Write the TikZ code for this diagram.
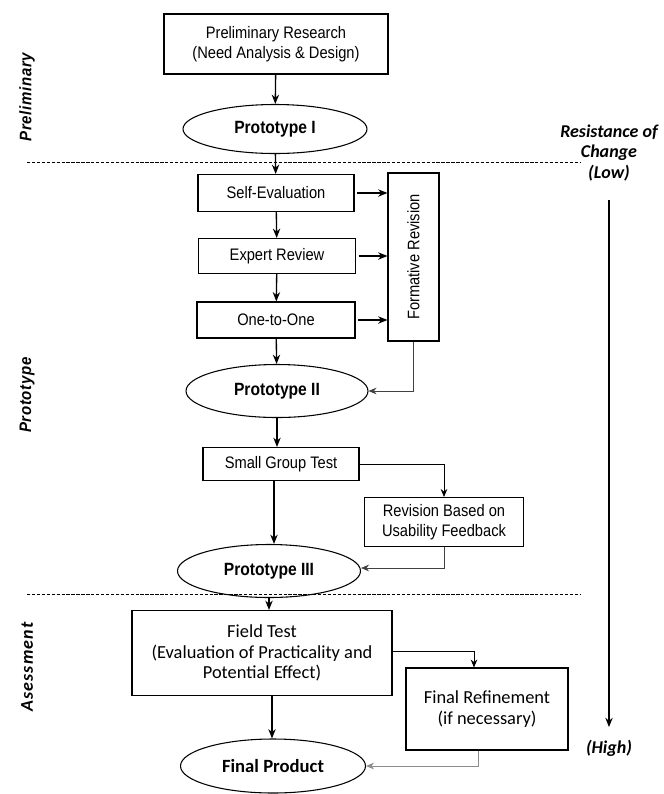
\documentclass[tikz,border=0pt]{standalone}
\usepackage{fontspec}
\setmainfont{Liberation Sans}
\newfontfamily\narrow{Liberation Sans}[FakeStretch=0.88]
\newfontfamily\calib{Carlito}
\newfontfamily\narrowspaced{Liberation Sans}[FakeStretch=0.9,LetterSpace=4]
\newfontfamily\calibspaced{Carlito}[LetterSpace=6]
\usetikzlibrary{shapes.geometric,arrows.meta,calc}
\begin{document}
\begin{tikzpicture}[x=0.75pt,y=-0.75pt,
  box/.style={draw,line width=0.8pt,inner sep=0pt,align=center,font=\narrow\fontsize{12.5}{15}\selectfont},
  cbox/.style={draw,line width=0.8pt,inner sep=0pt,align=center,font=\calib\fontsize{13.8}{15.3}\selectfont},
  oval/.style={draw,ellipse,line width=0.8pt,inner sep=0pt,font=\narrow\bfseries\fontsize{13.3}{15}\selectfont},
  arr/.style={line width=1pt,-{Stealth[length=7pt,width=5.5pt]}},
  gline/.style={line width=0.6pt,draw=black!75,-{Stealth[length=6pt,width=5pt]}},
  phase/.style={rotate=90,font=\narrowspaced\bfseries\itshape\fontsize{12.5}{14}\selectfont},
  res/.style={align=center,font=\calib\bfseries\itshape\fontsize{13.5}{15.5}\selectfont}
]
\useasboundingbox (0,0) rectangle (664,794);
% nodes
\node[box,minimum width=224*0.75pt,minimum height=60*0.75pt] (pre) at (276,44) {Preliminary Research\\(Need Analysis \& Design)};
\node[oval,minimum width=184*0.75pt,minimum height=49*0.75pt] (p1) at (275,129) {Prototype I};
\node[box,minimum width=156*0.75pt,minimum height=37*0.75pt] (se) at (276,193) {Self-Evaluation};
\node[box,minimum width=157*0.75pt,minimum height=35*0.75pt] (er) at (277,256) {Expert Review};
\node[box,minimum width=158*0.75pt,minimum height=36*0.75pt] (oo) at (276,320) {One-to-One};
\node[box,minimum width=51*0.75pt,minimum height=168*0.75pt] (fr0) at (413.5,257) {};
\node[font=\narrow\fontsize{12.5}{14}\selectfont,rotate=90] (frt) at (fr0) {Formative Revision};
\node[oval,minimum width=182*0.75pt,minimum height=53*0.75pt] (p2) at (277,391) {Prototype II};
\node[box,minimum width=156*0.75pt,minimum height=33*0.75pt] (sg) at (281,464) {Small Group Test};
\node[box,minimum width=159*0.75pt,minimum height=49*0.75pt] (rev) at (444,522) {Revision Based on\\Usability Feedback};
\node[oval,minimum width=183*0.75pt,minimum height=53*0.75pt] (p3) at (269,571) {Prototype III};
\node[cbox,minimum width=260*0.75pt,minimum height=85*0.75pt] (ft) at (262,653) {Field Test\\(Evaluation of Practicality and\\Potential Effect)};
\node[cbox,minimum width=162*0.75pt,minimum height=82*0.75pt] (fin) at (487,709) {Final Refinement\\(if necessary)};
\node[oval,minimum width=185*0.75pt,minimum height=54*0.75pt,font=\calib\bfseries\fontsize{14}{15}\selectfont] (fp) at (273,766) {Final Product};
% phase labels
\node[phase] (lpre) at (27,97) {Preliminary};
\node[phase] (lpro) at (27,395) {Prototype};
\node[phase,font=\calibspaced\bfseries\itshape\fontsize{13.5}{14}\selectfont] (lass) at (27,667) {Asessment};
% resistance
\node[res] (low) at (609,153) {Resistance of\\Change\\(Low)};
\node[res] (high) at (609,748) {(High)};
\draw[arr] ($(low.south)+(0,14)$) -- ($(high.north)+(0,-8)$);
% dashed separators
\draw[dash pattern=on 2.5pt off 1.2pt,line width=0.7pt] (27,162) -- (580,162);
\draw[dash pattern=on 2.5pt off 1.2pt,line width=0.7pt] (27,594) -- (580,594);
% main flow
\draw[arr] (pre) -- (p1);
\draw[arr] (p1) -- (se);
\draw[arr] (se) -- (er);
\draw[arr] (er) -- (oo);
\draw[arr] (oo) -- (p2);
\draw[arr] (p2.south) -- (p2.south |- sg.north);
\draw[arr] ($(sg.south)+(-7,0)$) -- ($(sg.south |- p3.north)+(-7,0)$);
\draw[arr] (p3.south) -- (p3.south |- ft.north);
\draw[arr] ($(ft.south)+(10,0)$) -- ($(ft.south |- fp.north)+(10,0)$);
% formative
\draw[arr,shorten <=2pt] (se.east) -- (se.east -| fr0.west);
\draw[arr,shorten <=2pt] (er.east) -- (er.east -| fr0.west);
\draw[arr,shorten <=2pt] (oo.east) -- (oo.east -| fr0.west);
\draw[gline] (fr0.south) |- (p2.east);
% small group
\draw[line width=0.7pt,-{Stealth[length=6pt,width=5pt]}] (sg.east) -| (rev.north);
\draw[gline] (rev.south) |- ($(p3.east)+(0,-3)$);
% field test
\coordinate (finin) at ($(fin.north)+(-13,0)$);
\draw[line width=0.7pt,-{Stealth[length=6pt,width=5pt]}] ($(ft.east)+(0,-2)$) -| (finin);
\coordinate (finout) at ($(fin.south)+(-9,0)$);
\draw[gline,draw=black!45] (finout) |- (fp.east);
\end{tikzpicture}
\end{document}
